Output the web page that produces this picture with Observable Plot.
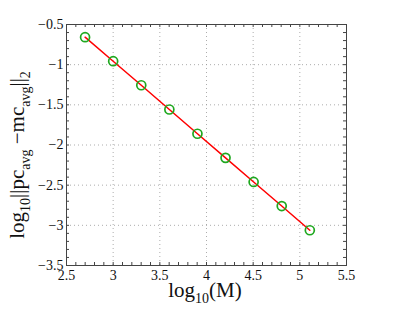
<!DOCTYPE html>
<html><head><meta charset="utf-8">
<script src="https://cdn.jsdelivr.net/npm/d3@7"></script>
<script src="https://cdn.jsdelivr.net/npm/@observablehq/plot@0.6"></script>
<style>body{margin:0;background:#fff} svg{font-family:"Liberation Serif",serif}</style>
</head><body><div id="chart"></div>
<script>
const logM = [2.699, 3.000, 3.301, 3.602, 3.903, 4.204, 4.505, 4.806, 5.107];
const logErr = [-0.658, -0.957, -1.256, -1.558, -1.860, -2.160, -2.460, -2.760, -3.061];
const xTicks = [2.5, 3, 3.5, 4, 4.5, 5, 5.5];
const yTicks = [-3.5, -3, -2.5, -2, -1.5, -1, -0.5];
const xTickLabels = ["2.5", "3", "3.5", "4", "4.5", "5", "5.5"];
const yTickLabels = ["−3.5", "−3", "−2.5", "−2", "−1.5", "−1", "−0.5"];
const xMinor = d3.range(25, 56).map(d => d / 10);
const yMinor = d3.range(-35, -4).map(d => d / 10);

const data = logM.map((x, i) => ({x, y: logErr[i]}));
const W = 407, H = 316, mL = 66, mR = 61, mT = 24, mB = 51;
const iw = W - mL - mR, ih = H - mT - mB;
const tl = 3;
const xfmt = d => xTickLabels[xTicks.indexOf(d)];
const yfmt = d => yTickLabels[yTicks.indexOf(d)];

const svg = Plot.plot({
  width: W, height: H,
  marginLeft: mL, marginRight: mR, marginTop: mT, marginBottom: mB,
  style: {fontFamily: "Liberation Serif, serif", background: "#fff"},
  x: {domain: [2.5, 5.5]},
  y: {domain: [-3.5, -0.5]},
  marks: [
    Plot.gridX(xTicks.slice(1, -1), {stroke: "#999", strokeOpacity: 0.8, strokeDasharray: "1,3"}),
    Plot.gridY(yTicks.slice(1, -1), {stroke: "#999", strokeOpacity: 0.8, strokeDasharray: "1,3"}),
    Plot.tickX(xMinor, {x: d => d, insetTop: ih - tl, stroke: "#444"}),
    Plot.tickX(xMinor, {x: d => d, insetBottom: ih - tl, stroke: "#444"}),
    Plot.tickY(yMinor, {y: d => d, insetRight: iw - tl, stroke: "#444"}),
    Plot.tickY(yMinor, {y: d => d, insetLeft: iw - tl, stroke: "#444"}),
    Plot.frame({stroke: "#444"}),
    Plot.axisX(xTicks, {tickSize: 0, tickPadding: 5, fontSize: 14, tickFormat: xfmt, label: null, fill: "#111"}),
    Plot.axisY(yTicks, {tickSize: 0, tickPadding: 3, fontSize: 14, tickFormat: yfmt, label: null, fill: "#111"}),
    Plot.line(data, {x: "x", y: "y", stroke: "#ff0000", strokeWidth: 1.5}),
    Plot.dot(data, {x: "x", y: "y", r: 4.5, stroke: "#1fa81f", strokeWidth: 1.7, fill: "none"})
  ]
});

document.getElementById("chart").appendChild(svg);
const s = d3.select(svg);
function addLabel(parts, cx, cy, rotate) {
  const g = s.append("g");
  const t = g.append("text").attr("text-anchor", "start")
    .attr("font-family", "Liberation Serif, serif").attr("fill", "#111");
  let shift = 0;
  for (const [txt, sub] of parts) {
    const target = sub ? 6 : 0;
    t.append("tspan").attr("dy", target - shift).attr("font-size", sub ? 14 : 21).text(txt);
    shift = target;
  }
  const w = t.node().getComputedTextLength();
  // cx, cy: position of the baseline centre
  g.attr("transform", `translate(${cx},${cy}) rotate(${rotate}) translate(${-w / 2},0)`);
}
addLabel([["log", 0], ["10", 1], ["(M)", 0]], 205, 297, 0);
addLabel([["log", 0], ["10", 1], ["||pc", 0], ["avg", 1], [" −mc", 0], ["avg", 1], ["||", 0], ["2", 1]],
  24, 155, -90);
</script>
</body></html>
